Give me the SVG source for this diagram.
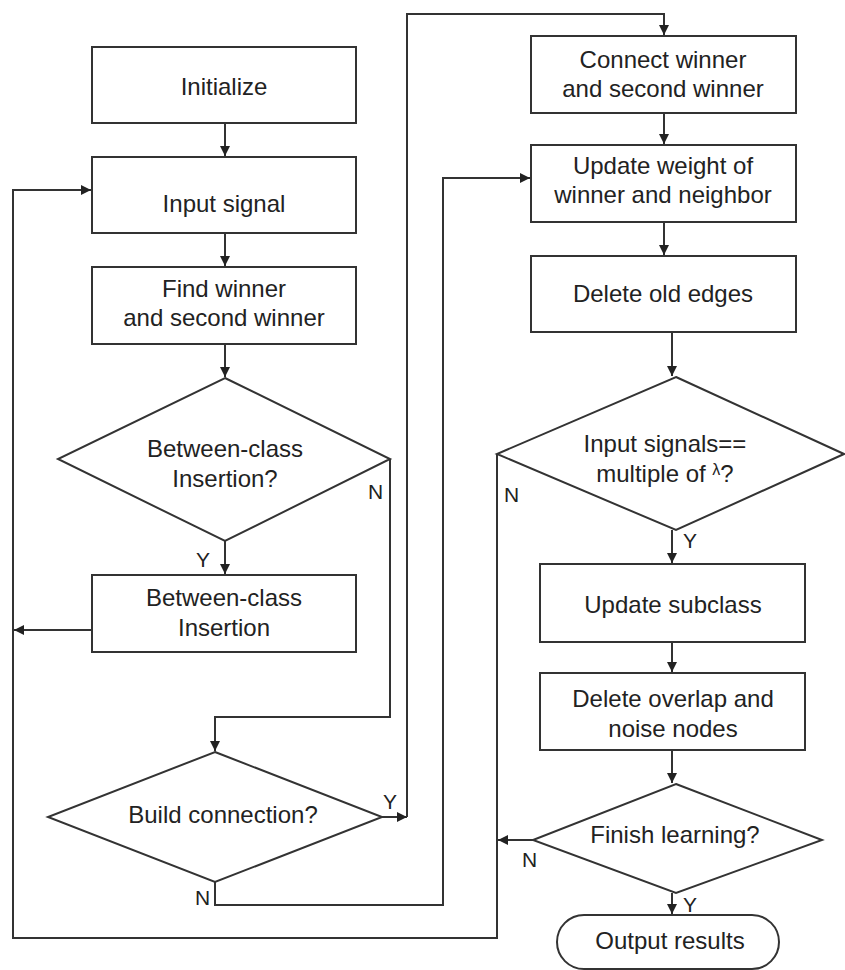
<svg xmlns="http://www.w3.org/2000/svg" width="845" height="970" viewBox="0 0 845 970">
<defs>
<marker id="ah" markerUnits="userSpaceOnUse" markerWidth="12" markerHeight="12" refX="10" refY="5" orient="auto">
<path d="M0,0 L10,5 L0,10 Z" fill="#222"/>
</marker>
<style>
.s{fill:#fff;stroke:#333;stroke-width:2}
.c{fill:none;stroke:#333;stroke-width:2}
.t{font-family:"Liberation Sans",Arial,sans-serif;font-size:24px;fill:#222;text-anchor:middle}
.l{font-family:"Liberation Sans",Arial,sans-serif;font-size:21px;fill:#222}
</style>
</defs>
<rect width="845" height="970" fill="#fff"/>
<g id="connectors">
<path class="c" d="M225,123 V156" marker-end="url(#ah)"/>
<path class="c" d="M225,233 V266" marker-end="url(#ah)"/>
<path class="c" d="M225,344 V377" marker-end="url(#ah)"/>
<path class="c" d="M225,541 V574" marker-end="url(#ah)"/>
<path class="c" d="M92,630 H14" marker-end="url(#ah)"/>
<path class="c" d="M497,454 V938 H13 V190 H91" marker-end="url(#ah)"/>
<path class="c" d="M390,459 V717 H215 V751" marker-end="url(#ah)"/>
<path class="c" d="M382,817 H407" marker-end="url(#ah)"/>
<path class="c" d="M407,817 V14 H664 V35" marker-end="url(#ah)"/>
<path class="c" d="M215,882 V905 H443 V178 H530" marker-end="url(#ah)"/>
<path class="c" d="M664,113 V144" marker-end="url(#ah)"/>
<path class="c" d="M664,222 V255" marker-end="url(#ah)"/>
<path class="c" d="M672,332 V376" marker-end="url(#ah)"/>
<path class="c" d="M672,530 V563" marker-end="url(#ah)"/>
<path class="c" d="M672,642 V672" marker-end="url(#ah)"/>
<path class="c" d="M672,750 V783" marker-end="url(#ah)"/>
<path class="c" d="M533,840 H498" marker-end="url(#ah)"/>
<path class="c" d="M672,893 V914" marker-end="url(#ah)"/>
</g>
<g id="initialize"><rect class="s" x="92" y="47" width="264" height="76"/><text class="t" x="224" y="95">Initialize</text></g>
<g id="input-signal"><rect class="s" x="92" y="157" width="264" height="76"/><text class="t" x="224" y="212">Input signal</text></g>
<g id="find-winner"><rect class="s" x="92" y="267" width="264" height="77"/><text class="t" x="224" y="297">Find winner</text><text class="t" x="224" y="326">and second winner</text></g>
<g id="between-class-decision"><polygon class="s" points="225,378 390,459 225,541 58,459"/><text class="t" x="225" y="457">Between-class</text><text class="t" x="225" y="487">Insertion?</text></g>
<g id="between-class-insertion"><rect class="s" x="92" y="575" width="264" height="77"/><text class="t" x="224" y="606">Between-class</text><text class="t" x="224" y="636">Insertion</text></g>
<g id="build-connection"><polygon class="s" points="215,752 382,817 215,882 48,817"/><text class="t" x="223" y="823">Build connection?</text></g>
<g id="connect-winner"><rect class="s" x="531" y="36" width="265" height="77"/><text class="t" x="663" y="68">Connect winner</text><text class="t" x="663" y="97">and second winner</text></g>
<g id="update-weight"><rect class="s" x="531" y="145" width="265" height="77"/><text class="t" x="663" y="174">Update weight of</text><text class="t" x="663" y="203">winner and neighbor</text></g>
<g id="delete-old-edges"><rect class="s" x="531" y="256" width="265" height="76"/><text class="t" x="663" y="302">Delete old edges</text></g>
<g id="input-signals-decision"><polygon class="s" points="676,377 844,454 676,530 497,454"/><text class="t" x="665" y="452">Input signals==</text><text class="t" x="665" y="482">multiple of <tspan font-size="16" dy="-7">λ</tspan><tspan dy="7">?</tspan></text></g>
<g id="update-subclass"><rect class="s" x="540" y="564" width="265" height="78"/><text class="t" x="673" y="613">Update subclass</text></g>
<g id="delete-overlap"><rect class="s" x="540" y="673" width="265" height="77"/><text class="t" x="673" y="707">Delete overlap and</text><text class="t" x="673" y="737">noise nodes</text></g>
<g id="finish-learning"><polygon class="s" points="676,784 822,840 676,893 533,840"/><text class="t" x="675" y="843">Finish learning?</text></g>
<g id="output-results"><rect class="s" x="557" y="915" width="222" height="54" rx="27" ry="27"/><text class="t" x="670" y="949">Output results</text></g>
<g id="labels">
<text class="l" x="368" y="499">N</text>
<text class="l" x="196" y="567">Y</text>
<text class="l" x="383" y="809">Y</text>
<text class="l" x="195" y="905">N</text>
<text class="l" x="504" y="502">N</text>
<text class="l" x="683" y="548">Y</text>
<text class="l" x="522" y="867">N</text>
<text class="l" x="683" y="912">Y</text>
</g>
</svg>
